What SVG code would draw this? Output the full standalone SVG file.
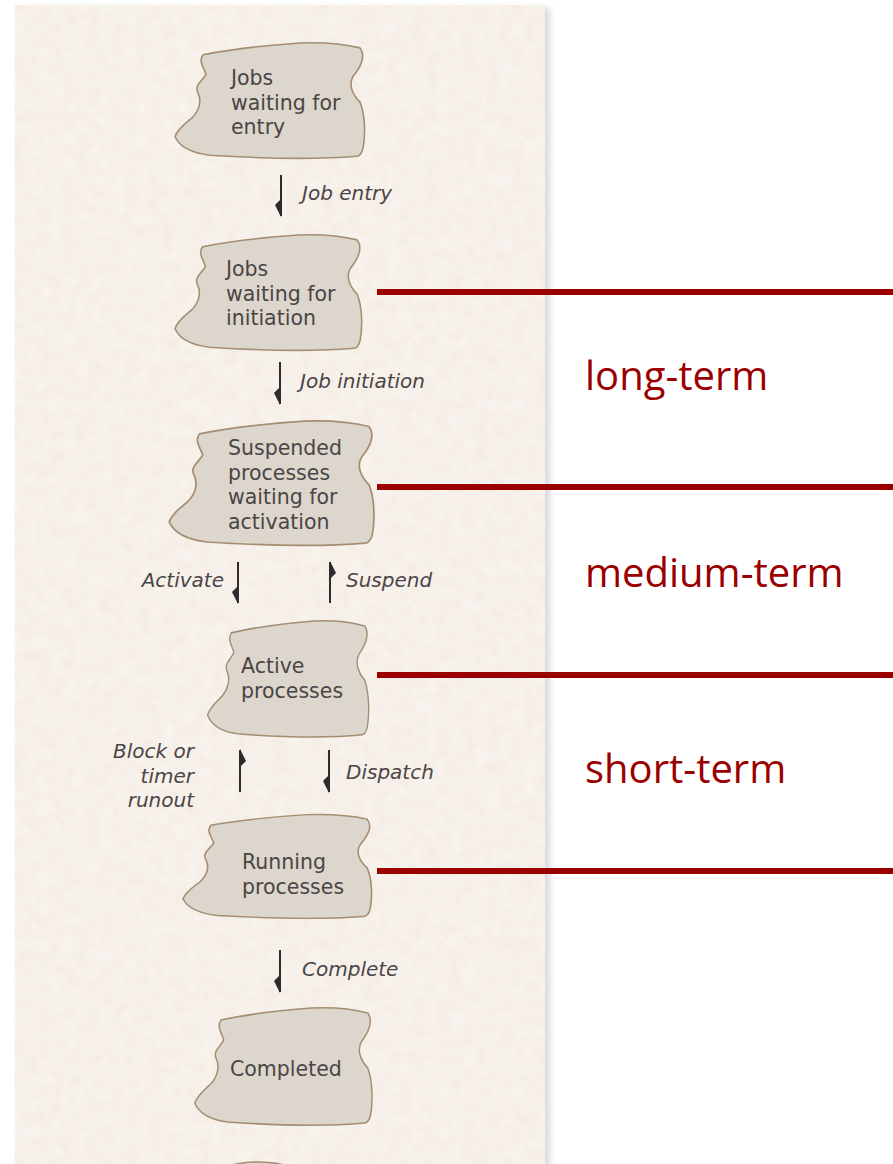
<svg xmlns="http://www.w3.org/2000/svg" xmlns:xlink="http://www.w3.org/1999/xlink" width="893" height="1164" viewBox="0 0 893 1164">
  <style>
    .blob { fill: #ddd6cc; stroke: #a48d70; stroke-width: 1.6; vector-effect: non-scaling-stroke; stroke-linejoin: round; }
    .ntext { font-family: "DejaVu Sans", "Liberation Sans", sans-serif; font-size: 20.5px; fill: #4a4547; }
    .label { font-family: "DejaVu Sans", "Liberation Sans", sans-serif; font-size: 20px; font-style: italic; fill: #4a4547; }
    .flow { stroke: #2f2b2c; stroke-width: 2; fill: none; marker-end: url(#halfhead); }
    .level { stroke: #9b0000; stroke-width: 6; }
    .term { font-family: "Open Sans", "Liberation Sans", sans-serif; font-size: 40px; fill: #9b0000; }
  </style>
  <defs>
    <!-- one-sided barb at the end of each flow line -->
    <marker id="halfhead" markerUnits="userSpaceOnUse" viewBox="-18 -2 20 9" markerWidth="20" markerHeight="9" refX="0" refY="0" orient="auto" overflow="visible">
      <path d="M1,0 L-17,0 L-11,6 Z" fill="#2f2b2c"/>
    </marker>
    <!-- irregular torn-paper outline, 196 x 120 box -->
    <path id="blobShape" d="M31,15 C60,9 100,5 128,3 C155,2 176,5 188,8 C194,16 189,27 181,37 C176,46 181,56 188,63 C194,78 193,100 191,110 C190,115 187,118 185,118 C150,121 100,121 38,117 C22,115 8,110 3,98 C6,90 13,85 20,79 C27,72 30,62 26,54 C22,46 30,42 34,35 C32,28 26,22 31,15 Z"/>
    <filter id="grain" x="0" y="0" width="100%" height="100%">
      <feTurbulence type="fractalNoise" baseFrequency="0.08" numOctaves="3" seed="4" result="n"/>
      <feColorMatrix in="n" type="matrix" values="0 0 0 0 0.85  0 0 0 0 0.72  0 0 0 0 0.6  0 0 0 0.5 -0.12" result="spots"/>
      <feComposite in="spots" in2="SourceGraphic" operator="in"/>
    </filter>
    <filter id="shadow" x="-10%" y="-10%" width="120%" height="120%">
      <feGaussianBlur stdDeviation="3"/>
    </filter>
  </defs>

  <rect width="893" height="1164" fill="#ffffff"/>

  <!-- paper panel -->
  <g id="panel">
    <rect x="19" y="8" width="531" height="1170" fill="#b9bcc4" opacity="0.55" filter="url(#shadow)"/>
    <rect x="15" y="5" width="530" height="1170" fill="#f8f3ee"/>
    <rect x="15" y="5" width="530" height="1170" fill="#f8f3ee" filter="url(#grain)"/>
  </g>

  <!-- scheduling level markers -->
  <g id="levels">
    <line class="level" x1="377" y1="292" x2="893" y2="292"/>
    <line class="level" x1="377" y1="487" x2="893" y2="487"/>
    <line class="level" x1="377" y1="675" x2="893" y2="675"/>
    <line class="level" x1="377" y1="871" x2="893" y2="871"/>
    <text class="term" x="585" y="390">long-term</text>
    <text class="term" x="585" y="587">medium-term</text>
    <text class="term" x="585" y="783">short-term</text>
  </g>

  <!-- flows between states -->
  <g id="connectors">
    <line class="flow" x1="281" y1="175" x2="281" y2="216"/>
    <text class="label" x="302" y="200">Job entry</text>
    <line class="flow" x1="280" y1="362" x2="280" y2="404"/>
    <text class="label" x="300" y="388">Job initiation</text>
    <line class="flow" x1="238" y1="562" x2="238" y2="603"/>
    <text class="label" x="224" y="587" text-anchor="end">Activate</text>
    <line class="flow" x1="330" y1="603" x2="330" y2="562"/>
    <text class="label" x="346" y="587">Suspend</text>
    <line class="flow" x1="240" y1="792" x2="240" y2="750"/>
    <text class="label" text-anchor="end"><tspan x="194" y="758">Block or</tspan><tspan x="194" y="782.5">timer</tspan><tspan x="194" y="807">runout</tspan></text>
    <line class="flow" x1="329" y1="750" x2="329" y2="792"/>
    <text class="label" x="346" y="779">Dispatch</text>
    <line class="flow" x1="280" y1="950" x2="280" y2="992"/>
    <text class="label" x="302" y="976">Complete</text>
  </g>

  <g id="node-entry">
    <use xlink:href="#blobShape" class="blob" transform="translate(172,40) scale(1,0.985)"/>
    <text class="ntext"><tspan x="231" y="85">Jobs</tspan><tspan x="231" y="109.5">waiting for</tspan><tspan x="231" y="134">entry</tspan></text>
  </g>

  <g id="node-initiation">
    <use xlink:href="#blobShape" class="blob" transform="translate(172,232) scale(0.985,0.985)"/>
    <text class="ntext"><tspan x="226" y="276">Jobs</tspan><tspan x="226" y="300.5">waiting for</tspan><tspan x="226" y="325">initiation</tspan></text>
  </g>

  <g id="node-suspended">
    <use xlink:href="#blobShape" class="blob" transform="translate(166,418) scale(1.08,1.06)"/>
    <text class="ntext"><tspan x="228" y="455">Suspended</tspan><tspan x="228" y="479.5">processes</tspan><tspan x="228" y="504">waiting for</tspan><tspan x="228" y="528.5">activation</tspan></text>
  </g>

  <g id="node-active">
    <use xlink:href="#blobShape" class="blob" transform="translate(205,618) scale(0.85,0.99)"/>
    <text class="ntext"><tspan x="241" y="673">Active</tspan><tspan x="241" y="697.5">processes</tspan></text>
  </g>

  <g id="node-running">
    <use xlink:href="#blobShape" class="blob" transform="translate(180,812) scale(0.995,0.885)"/>
    <text class="ntext"><tspan x="242" y="869">Running</tspan><tspan x="242" y="893.5">processes</tspan></text>
  </g>

  <g id="node-completed">
    <use xlink:href="#blobShape" class="blob" transform="translate(192,1005) scale(0.935,1)"/>
    <text class="ntext" x="230" y="1076">Completed</text>
  </g>

  <!-- top edge of the next outline, cut off by the page -->
  <g id="node-next">
    <ellipse class="blob" cx="258" cy="1178" rx="44" ry="16"/>
  </g>
</svg>
